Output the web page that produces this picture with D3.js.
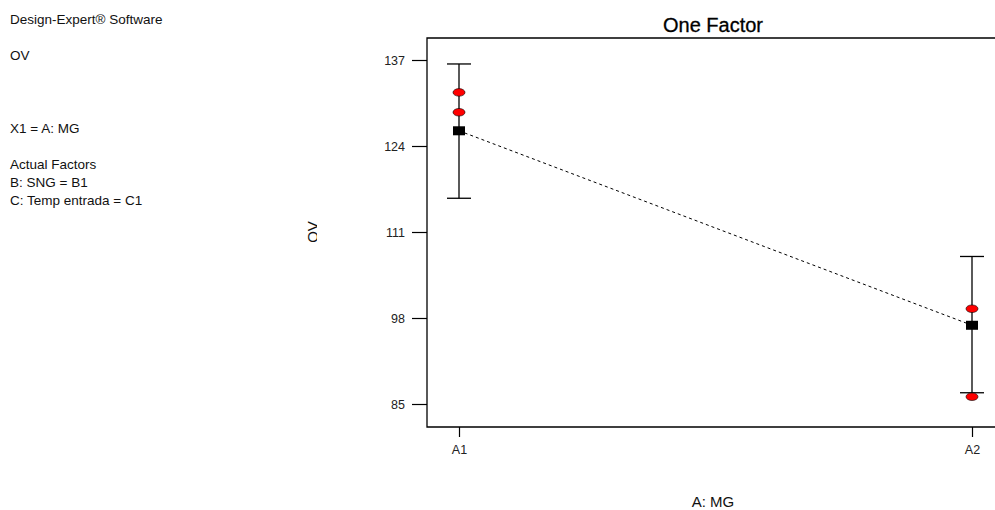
<!DOCTYPE html>
<html>
<head>
<meta charset="utf-8">
<script src="https://cdn.jsdelivr.net/npm/d3@7"></script>
<style>
  body { margin: 0; background: #fff; }
  svg { font-family: "Liberation Sans", Arial, sans-serif; display: block; }
</style>
</head>
<body>
<svg width="995" height="510"></svg>
<script>
const categories = ["A1", "A2"];
const means = [126.3, 96.9];
const lowerCI = [116.1, 86.7];
const upperCI = [136.4, 107.3];
const observed = [
  { cat: "A1", value: 132.1 },
  { cat: "A1", value: 129.1 },
  { cat: "A2", value: 99.4 },
  { cat: "A2", value: 86.1 }
];
const yTicks = [85, 98, 111, 124, 137];
const infoLines = [
  { text: "Design-Expert\u00AE Software", y: 24 },
  { text: "OV", y: 60 },
  { text: "X1 = A: MG", y: 133 },
  { text: "Actual Factors", y: 169 },
  { text: "B: SNG = B1", y: 187 },
  { text: "C: Temp entrada = C1", y: 205 }
];

const svg = d3.select("svg");

const plot = { left: 427, top: 38, right: 1000, bottom: 427 };

const y = d3.scaleLinear().domain([85, 137]).range([404, 60]);
const x = d3.scalePoint().domain(categories).range([459, 972]);

// info text on the left
svg.append("g").selectAll("text")
  .data(infoLines)
  .enter().append("text")
  .attr("x", 10)
  .attr("y", d => d.y)
  .attr("font-size", 13.5)
  .attr("fill", "#111")
  .text(d => d.text);

// title
svg.append("text")
  .attr("x", 713)
  .attr("y", 32)
  .attr("text-anchor", "middle")
  .attr("font-size", 20)
  .attr("stroke", "#000")
  .attr("stroke-width", 0.3)
  .text("One Factor");

// frame
svg.append("path")
  .attr("d", `M${plot.right},${plot.top}H${plot.left}V${plot.bottom}H${plot.right}`)
  .attr("fill", "none")
  .attr("stroke", "#000")
  .attr("stroke-width", 1.3);

// y axis
const yAxis = svg.append("g")
  .attr("transform", `translate(${plot.left},0)`)
  .call(d3.axisLeft(y).tickValues(yTicks).tickSize(15).tickPadding(7));
yAxis.select(".domain").remove();
yAxis.selectAll("line").attr("stroke", "#000").attr("stroke-width", 1.2);
yAxis.selectAll("text").attr("font-size", 12.5).attr("font-family", "Liberation Sans, Arial").attr("fill", "#222");

// x axis
const xAxis = svg.append("g")
  .attr("transform", `translate(0,${plot.bottom})`)
  .call(d3.axisBottom(x).tickSize(10).tickPadding(8));
xAxis.select(".domain").remove();
xAxis.selectAll("line").attr("stroke", "#000").attr("stroke-width", 1.2);
xAxis.selectAll("text").attr("font-size", 12.5).attr("font-family", "Liberation Sans, Arial").attr("fill", "#222");

// axis titles
svg.append("text")
  .attr("x", 713)
  .attr("y", 507)
  .attr("text-anchor", "middle")
  .attr("font-size", 15)
  .attr("fill", "#111")
  .text("A: MG");

svg.append("clipPath").attr("id", "ylab")
  .append("rect").attr("x", 300).attr("y", 210).attr("width", 17).attr("height", 40);
svg.append("g")
  .attr("clip-path", "url(#ylab)")
  .append("text")
  .attr("transform", "translate(318,232) rotate(-90)")
  .attr("text-anchor", "middle")
  .attr("font-size", 15)
  .attr("fill", "#111")
  .text("OV");

// dashed line between means
svg.append("path")
  .datum(categories.map((c, i) => [c, means[i]]))
  .attr("d", d3.line().x(d => x(d[0])).y(d => y(d[1])))
  .attr("fill", "none")
  .attr("stroke", "#000")
  .attr("stroke-width", 1)
  .attr("stroke-dasharray", "3,3");

// error bars
const bars = svg.append("g").selectAll("g")
  .data(categories.map((c, i) => ({ cat: c, lo: lowerCI[i], hi: upperCI[i] })))
  .enter().append("g");
bars.append("line")
  .attr("x1", d => x(d.cat)).attr("x2", d => x(d.cat))
  .attr("y1", d => y(d.lo)).attr("y2", d => y(d.hi))
  .attr("stroke", "#000").attr("stroke-width", 1.3);
["lo", "hi"].forEach(k => {
  bars.append("line")
    .attr("x1", d => x(d.cat) - 12).attr("x2", d => x(d.cat) + 12)
    .attr("y1", d => y(d[k])).attr("y2", d => y(d[k]))
    .attr("stroke", "#000").attr("stroke-width", 1.3);
});

// observed points
svg.append("g").selectAll("ellipse")
  .data(observed)
  .enter().append("ellipse")
  .attr("cx", d => x(d.cat))
  .attr("cy", d => y(d.value))
  .attr("rx", 6)
  .attr("ry", 3.8)
  .attr("fill", "#f00")
  .attr("stroke", "#000")
  .attr("stroke-width", 0.6);

// mean markers
svg.append("g").selectAll("rect")
  .data(categories.map((c, i) => ({ cat: c, value: means[i] })))
  .enter().append("rect")
  .attr("x", d => x(d.cat) - 6)
  .attr("y", d => y(d.value) - 4.5)
  .attr("width", 12)
  .attr("height", 9)
  .attr("fill", "#000");
</script>
</body>
</html>
